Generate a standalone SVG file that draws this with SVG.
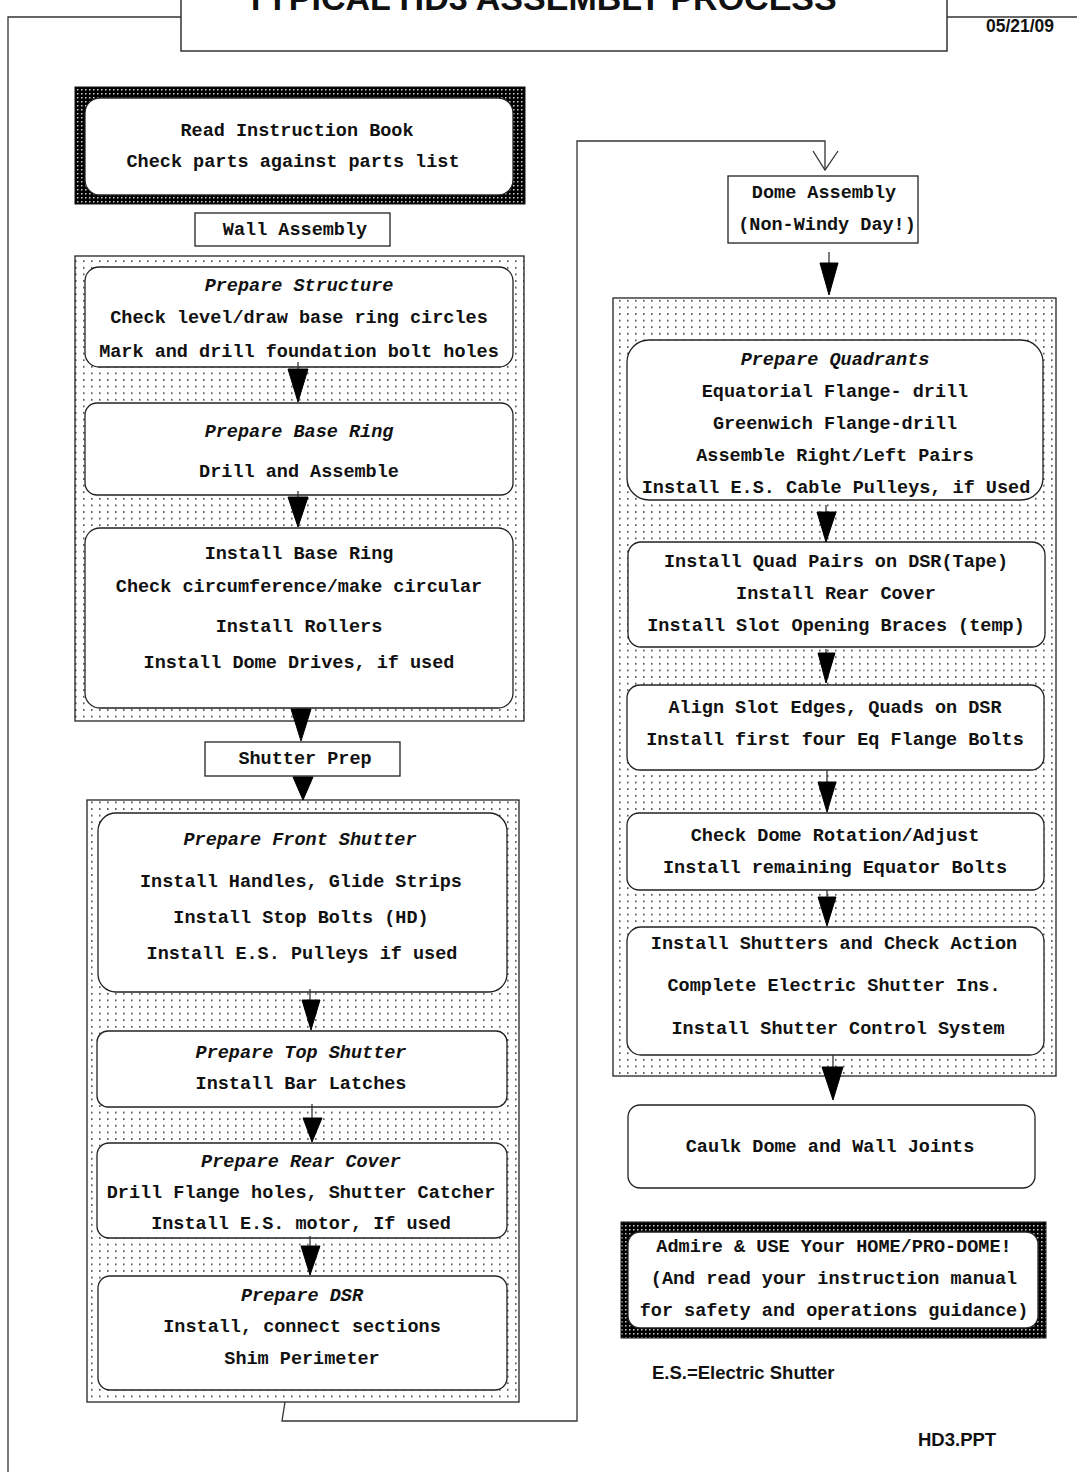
<svg xmlns="http://www.w3.org/2000/svg" width="1077" height="1472" viewBox="0 0 1077 1472">
<style>
.t{font-family:"Liberation Mono","Courier New",monospace;font-weight:bold;font-size:18.5px;text-anchor:middle;fill:#111}
.i{font-style:italic}
.s{font-family:"Liberation Sans",Arial,sans-serif;font-weight:bold;fill:#111}
.box{fill:#fff;stroke:#222;stroke-width:1.3}
.reg{fill:url(#dots);stroke:#222;stroke-width:1.3}
.dk{fill:url(#dark);stroke:#111;stroke-width:1}
.ln{fill:none;stroke:#333;stroke-width:1.3}
.ah{fill:#000;stroke:#000;stroke-width:1}
</style>
<defs>
<pattern id="dots" width="8" height="6.6" patternUnits="userSpaceOnUse">
<rect width="8" height="6.6" fill="#fff"/>
<rect x="3" y="3" width="1.6" height="1.6" fill="#444"/>
</pattern>
<pattern id="dark" width="4" height="4" patternUnits="userSpaceOnUse">
<rect width="4" height="4" fill="#000"/>
<rect x="1" y="1" width="1.5" height="1.5" fill="#ccc"/>
</pattern>
</defs>
<rect width="1077" height="1472" fill="#fff"/>

<g id="frame">
<polyline class="ln" points="8,1472 8,17 181,17"/>
<line class="ln" x1="947" y1="17" x2="1077" y2="17"/>
<rect x="181" y="-2" width="766" height="53" fill="#fff" stroke="#333" stroke-width="1.5"/>
<text class="s" x="541" y="10" font-size="34" text-anchor="middle">TYPICAL HD3 ASSEMBLY PROCESS</text>
<text class="s" x="1020" y="32" font-size="17.5" text-anchor="middle">05/21/09</text>
</g>

<g id="start">
<rect class="dk" x="75" y="87" width="450" height="117"/>
<rect class="box" x="85" y="98" width="428" height="97" rx="15"/>
<text class="t" x="297" y="136">Read Instruction Book</text>
<text class="t" x="293" y="167">Check parts against parts list</text>
</g>

<g id="wall-label">
<rect class="box" x="195" y="213" width="195" height="33"/>
<text class="t" x="295" y="235">Wall Assembly</text>
</g>

<g id="wall-group">
<rect class="reg" x="75" y="256" width="449" height="465"/>
</g>
<g id="prep-structure">
<rect class="box" x="85" y="267" width="428" height="100" rx="14"/>
<text class="t i" x="299" y="291">Prepare Structure</text>
<text class="t" x="299" y="323">Check level/draw base ring circles</text>
<text class="t" x="299" y="357">Mark and drill foundation bolt holes</text>
</g>
<g id="prep-base-ring">
<rect class="box" x="85" y="403" width="428" height="92" rx="12"/>
<text class="t i" x="299" y="437">Prepare Base Ring</text>
<text class="t" x="299" y="477">Drill and Assemble</text>
</g>
<g id="install-base-ring">
<rect class="box" x="85" y="528" width="428" height="180" rx="15"/>
<text class="t" x="299" y="559">Install Base Ring</text>
<text class="t" x="299" y="592">Check circumference/make circular</text>
<text class="t" x="299" y="632">Install Rollers</text>
<text class="t" x="299" y="668">Install Dome Drives, if used</text>
</g>

<g id="shutter-label">
<rect class="box" x="205" y="742" width="195" height="34"/>
<text class="t" x="305" y="764">Shutter Prep</text>
</g>

<g id="shutter-group">
<rect class="reg" x="87" y="800" width="432" height="602"/>
</g>
<g id="front-shutter">
<rect class="box" x="98" y="813" width="409" height="179" rx="18"/>
<text class="t i" x="300" y="845">Prepare Front Shutter</text>
<text class="t" x="301" y="887">Install Handles, Glide Strips</text>
<text class="t" x="301" y="923">Install Stop Bolts (HD)</text>
<text class="t" x="302" y="959">Install E.S. Pulleys if used</text>
</g>
<g id="top-shutter">
<rect class="box" x="97" y="1031" width="410" height="76" rx="11"/>
<text class="t i" x="301" y="1058">Prepare Top Shutter</text>
<text class="t" x="301" y="1089">Install Bar Latches</text>
</g>
<g id="rear-cover">
<rect class="box" x="97" y="1143" width="410" height="95" rx="12"/>
<text class="t i" x="301" y="1167">Prepare Rear Cover</text>
<text class="t" x="301" y="1198">Drill Flange holes, Shutter Catcher</text>
<text class="t" x="301" y="1229">Install E.S. motor, If used</text>
</g>
<g id="dsr">
<rect class="box" x="98" y="1276" width="409" height="114" rx="12"/>
<text class="t i" x="302" y="1301">Prepare DSR</text>
<text class="t" x="302" y="1332">Install, connect sections</text>
<text class="t" x="302" y="1364">Shim Perimeter</text>
</g>

<g id="dome-label">
<rect class="box" x="728" y="176" width="190" height="67"/>
<text class="t" x="824" y="198">Dome Assembly</text>
<text class="t" x="827" y="230">(Non-Windy Day!)</text>
</g>

<g id="dome-group">
<rect class="reg" x="613" y="298" width="443" height="778"/>
</g>
<g id="quadrants">
<rect class="box" x="627" y="340" width="416" height="160" rx="22"/>
<text class="t i" x="835" y="365">Prepare Quadrants</text>
<text class="t" x="835" y="397">Equatorial Flange- drill</text>
<text class="t" x="835" y="429">Greenwich Flange-drill</text>
<text class="t" x="835" y="461">Assemble Right/Left Pairs</text>
<text class="t" x="836" y="493">Install E.S. Cable Pulleys, if Used</text>
</g>
<g id="quad-pairs">
<rect class="box" x="628" y="542" width="417" height="105" rx="13"/>
<text class="t" x="836" y="567">Install Quad Pairs on DSR(Tape)</text>
<text class="t" x="836" y="599">Install Rear Cover</text>
<text class="t" x="836" y="631">Install Slot Opening Braces (temp)</text>
</g>
<g id="align">
<rect class="box" x="627" y="685" width="417" height="85" rx="13"/>
<text class="t" x="835" y="713">Align Slot Edges, Quads on DSR</text>
<text class="t" x="835" y="745">Install first four Eq Flange Bolts</text>
</g>
<g id="rotation">
<rect class="box" x="627" y="813" width="417" height="77" rx="12"/>
<text class="t" x="835" y="841">Check Dome Rotation/Adjust</text>
<text class="t" x="835" y="873">Install remaining Equator Bolts</text>
</g>
<g id="shutters">
<rect class="box" x="627" y="927" width="417" height="128" rx="14"/>
<text class="t" x="834" y="949">Install Shutters and Check Action</text>
<text class="t" x="834" y="991">Complete Electric Shutter Ins.</text>
<text class="t" x="838" y="1034">Install Shutter Control System</text>
</g>

<g id="caulk">
<rect class="box" x="628" y="1105" width="407" height="83" rx="12"/>
<text class="t" x="830" y="1152">Caulk Dome and Wall Joints</text>
</g>

<g id="admire">
<rect class="dk" x="621" y="1222" width="425" height="116"/>
<rect class="box" x="628" y="1232" width="410" height="96" rx="12"/>
<text class="t" x="834" y="1252">Admire &amp; USE Your HOME/PRO-DOME!</text>
<text class="t" x="834" y="1284">(And read your instruction manual</text>
<text class="t" x="834" y="1316">for safety and operations guidance)</text>
</g>

<g id="notes">
<text class="s" x="652" y="1379" font-size="18.5">E.S.=Electric Shutter</text>
<text class="s" x="918" y="1446" font-size="18.5">HD3.PPT</text>
</g>

<g id="connectors">
<line class="ln" x1="298" y1="362" x2="298" y2="372"/>
<polygon class="ah" points="288,369 308,369 298,402"/>
<line class="ln" x1="298" y1="491" x2="298" y2="500"/>
<polygon class="ah" points="288,497 308,497 298,527"/>
<polygon class="ah" points="291,709 311,709 301,741"/>
<polygon class="ah" points="293,777 313,777 303,800"/>
<line class="ln" x1="310" y1="989" x2="310" y2="1002"/>
<polygon class="ah" points="302,1000 320,1000 311,1030"/>
<line class="ln" x1="312" y1="1104" x2="312" y2="1120"/>
<polygon class="ah" points="303,1118 322,1118 312,1142"/>
<line class="ln" x1="310" y1="1236" x2="310" y2="1248"/>
<polygon class="ah" points="301,1246 320,1246 310,1275"/>
<line class="ln" x1="829" y1="252" x2="829" y2="265"/>
<polygon class="ah" points="820,263 838,263 829,295"/>
<line class="ln" x1="826" y1="505" x2="826" y2="514"/>
<polygon class="ah" points="817,512 836,512 826,542"/>
<line class="ln" x1="826" y1="649" x2="826" y2="655"/>
<polygon class="ah" points="818,653 835,653 826,683"/>
<line class="ln" x1="827" y1="770" x2="827" y2="784"/>
<polygon class="ah" points="818,782 836,782 827,812"/>
<line class="ln" x1="827" y1="890" x2="827" y2="899"/>
<polygon class="ah" points="818,897 836,897 827,926"/>
<line class="ln" x1="833" y1="1055" x2="833" y2="1069"/>
<polygon class="ah" points="822,1067 843,1067 833,1100"/>
<polyline class="ln" points="285,1402 282,1421 577,1421 577,141 825,141 825,170"/>
<polyline class="ln" points="813,151 825,170 838,151"/>
</g>
</svg>
